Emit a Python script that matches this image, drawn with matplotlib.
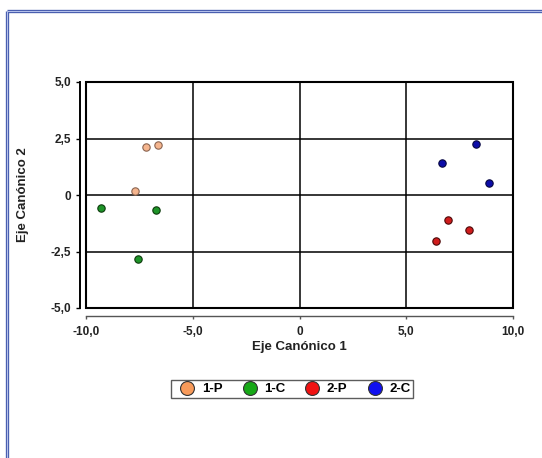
import matplotlib
matplotlib.use("Agg")
import matplotlib.pyplot as plt
from matplotlib.patches import Rectangle
from matplotlib.lines import Line2D

plt.rcParams['font.family'] = ['Liberation Sans', 'DejaVu Sans']

# ---- data ----
groups = ["1-P", "1-C", "2-P", "2-C"]
x_1P = [-7.2, -6.64, -7.72]
y_1P = [2.11, 2.21, 0.18]
x_1C = [-9.31, -6.74, -7.58]
y_1C = [-0.59, -0.68, -2.82]
x_2P = [6.96, 7.92, 6.38]
y_2P = [-1.11, -1.55, -2.04]
x_2C = [8.28, 6.67, 8.89]
y_2C = [2.26, 1.43, 0.52]
xticks = [-10, -5, 0, 5, 10]
xtick_labels = ["-10,0", "-5,0", "0", "5,0", "10,0"]
yticks = [-5, -2.5, 0, 2.5, 5]
ytick_labels = ["-5,0", "-2,5", "0", "2,5", "5,0"]
xlabel = "Eje Canónico 1"
ylabel = "Eje Canónico 2"

W, H = 542, 458
fig = plt.figure(figsize=(W / 100, H / 100), dpi=100)
fig.patch.set_facecolor("white")

def fx(px):
    return px / W

def fy(py):
    return 1 - py / H

# outer border (double blue line, top & left)
for lw, col in [(2.4, "#4a5fb0"), (0.7, "#b8c4ec")]:
    fig.add_artist(Line2D([fx(7), fx(7)], [fy(10.5), -0.05], transform=fig.transFigure,
                          color=col, lw=lw, solid_capstyle="butt"))
    fig.add_artist(Line2D([fx(7), 1.05], [fy(10.5), fy(10.5)], transform=fig.transFigure,
                          color=col, lw=lw, solid_capstyle="butt"))

ax = fig.add_axes([fx(86), fy(308), fx(513) - fx(86), (308 - 82) / H])
ax.set_xlim(-10, 10)
ax.set_ylim(-5, 5)

# plot-area box
ax.add_patch(Rectangle((0, 0), 1, 1, transform=ax.transAxes, fill=False,
                       edgecolor="black", lw=1.5, zorder=3, clip_on=False))
for gx in [-5, 0, 5]:
    ax.axvline(gx, color="black", lw=1.1, zorder=1)
for gy in [-2.5, 0, 2.5]:
    ax.axhline(gy, color="black", lw=1.1, zorder=1)

ax.spines["top"].set_visible(False)
ax.spines["right"].set_visible(False)
ax.spines["left"].set_position(("outward", 4.0))
ax.spines["left"].set_linewidth(1.4)
ax.spines["bottom"].set_position(("outward", 6.0))
ax.spines["bottom"].set_linewidth(1.0)
ax.spines["bottom"].set_color("#555555")

ax.set_xticks(xticks)
ax.set_xticklabels(xtick_labels)
ax.set_yticks(yticks)
ax.set_yticklabels(ytick_labels)
ax.tick_params(axis="y", direction="out", length=3, width=1, pad=3.5,
               labelsize=8.5)
ax.tick_params(axis="x", direction="out", length=2.5, width=1, color="#555555",
               pad=4.5, labelsize=8.5)
for lab in ax.get_xticklabels() + ax.get_yticklabels():
    lab.set_fontweight("bold")
    lab.set_color("#222222")

styles = {
    "1-P": ("#f5b58e", "#8a6450", "#f79a5a"),
    "1-C": ("#1e9428", "#0b3a0b", "#17a817"),
    "2-P": ("#d01c1c", "#4a0808", "#f01212"),
    "2-C": ("#0c0ca8", "#050540", "#1010f0"),
}
data = {"1-P": (x_1P, y_1P), "1-C": (x_1C, y_1C),
        "2-P": (x_2P, y_2P), "2-C": (x_2C, y_2C)}

handles = []
for g in groups:
    fc, ec, lc = styles[g]
    xs, ys = data[g]
    ax.plot(xs, ys, linestyle="none", marker="o", markersize=5.3,
            markerfacecolor=fc, markeredgecolor=ec, markeredgewidth=0.8,
            zorder=4, clip_on=False)
    handles.append(Line2D([], [], linestyle="none", marker="o", markersize=10.0,
                          markerfacecolor=lc, markeredgecolor="#333333",
                          markeredgewidth=0.8, label=g))

fig.text(fx(299), fy(347), xlabel, ha="center", va="center",
         fontsize=9.5, fontweight="bold", color="#222222")
fig.text(fx(23), fy(195), ylabel, ha="center", va="center", rotation=90,
         fontsize=9.5, fontweight="bold", color="#222222")

leg = fig.legend(handles=handles, loc="center", bbox_to_anchor=(fx(292), fy(389)),
                 ncol=4, frameon=True, fancybox=False, edgecolor="#333333",
                 prop={"size": 9.5, "weight": "bold"}, handletextpad=0.05,
                 columnspacing=1.0, borderpad=0.2, handlelength=2.1,
                 borderaxespad=0)
leg.get_frame().set_linewidth(1.0)

fig.savefig("out.png", dpi=100, facecolor="white")
